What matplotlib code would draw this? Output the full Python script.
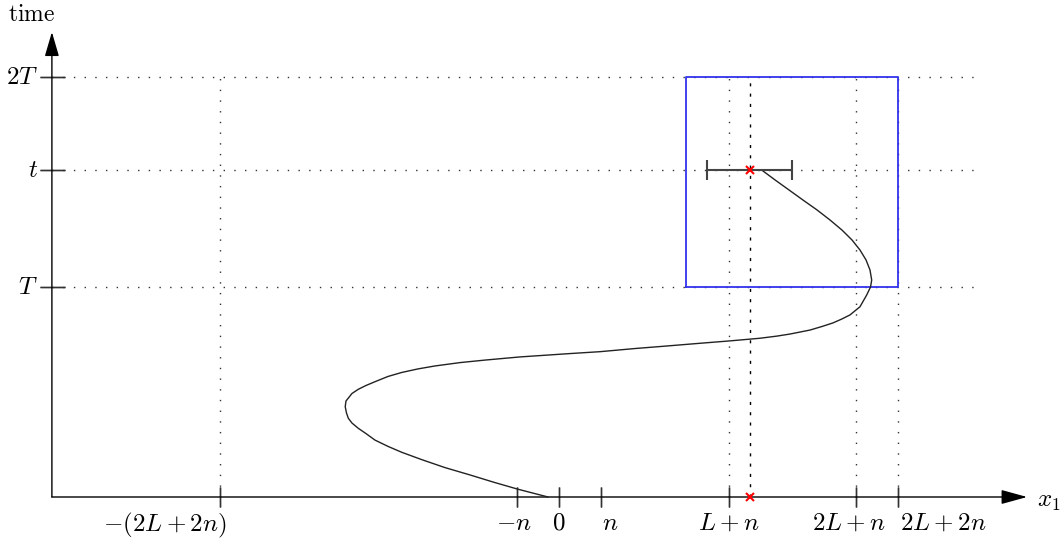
import matplotlib.pyplot as plt

plt.rcParams['mathtext.fontset'] = 'cm'

# parametres du schema (unites : n = 1, T = 1)
n = 1.0
L = 3.0
T = 1.0
t = 1.557
x_star = L + 1.5*n     # position de la croix rouge
half_width = n         # demi-largeur de l'intervalle en t

tick_pos = [-(2*L + 2*n), -n, 0, n, L + n, 2*L + n, 2*L + 2*n]
tick_lab = [r'$-(2L+2n)$', r'$-n$', r'$0$', r'$n$', r'$L+n$', r'$2L+n$', r'$2L+2n$']
tick_ha = ['right', 'center', 'center', 'center', 'center', 'center', 'left']
tick_dx = [5, -2, 0, 6, 0, -5, 1]

ytick_pos = [T, t, 2*T]
ytick_lab = [r'$T$', r'$t$', r'$2T$']

vlines_pos = [-(2*L + 2*n), L + n, 2*L + n, 2*L + 2*n]

box_x = [L, 2*L + 2*n]
box_y = [T, 2*T]

# trajectoire
curve_x = [-0.259, -0.967, -1.533, -2.099, -2.689, -3.238, -3.710, -4.033, -4.340,
           -4.552, -4.733, -4.882, -4.969, -5.012, -5.042, -5.024, -4.969, -4.882,
           -4.733, -4.552, -4.340, -4.033, -3.710, -3.325, -2.925, -2.335, -1.745,
           -0.920, 0.259, 0.967, 1.792, 2.540, 3.325, 4.009, 4.741, 5.134, 5.448,
           5.920, 6.203, 6.462, 6.675, 6.863, 7.099, 7.257, 7.347, 7.375, 7.335,
           7.241, 7.099, 6.910, 6.675, 6.392, 6.085, 5.755, 5.425, 5.094, 4.781]
curve_y = [0.000, 0.037, 0.070, 0.105, 0.140, 0.178, 0.213, 0.241, 0.271,
           0.302, 0.327, 0.352, 0.375, 0.400, 0.430, 0.457, 0.471, 0.493,
           0.513, 0.531, 0.549, 0.574, 0.593, 0.610, 0.624, 0.640, 0.652,
           0.667, 0.683, 0.692, 0.707, 0.719, 0.732, 0.743, 0.756, 0.766, 0.776,
           0.795, 0.812, 0.829, 0.848, 0.867, 0.906, 0.962, 1.000, 1.033, 1.081,
           1.129, 1.176, 1.224, 1.271, 1.319, 1.367, 1.414, 1.462, 1.510, 1.557]

x_axis_left = -11.96
x_axis_tip = 11.04
y_axis_tip = 2.214
dotted_right = 9.9

fig = plt.figure(figsize=(10.62, 5.38), dpi=100)
ax = fig.add_axes([0, 0, 1, 1])
ax.set_xlim(-559/42.4, 503/42.4)
ax.set_ylim(-41/210, 497/210)
ax.axis('off')

dot = (0, (1, 6.7))

# lignes pointillees horizontales
for y in ytick_pos:
    ax.plot([x_axis_left, dotted_right], [y, y], color='#333333', lw=1.0, ls=dot, zorder=1)
# lignes pointillees verticales
for x in vlines_pos:
    ax.plot([x, x], [0, 2*T], color='#333333', lw=1.0, ls=dot, zorder=1)
ax.plot([x_star, x_star], [0, 2*T], color='black', lw=1.0, ls=(0, (2.2, 5.2)), zorder=1)

# boite bleue
ax.plot([box_x[0], box_x[1], box_x[1], box_x[0], box_x[0]],
        [box_y[0], box_y[0], box_y[1], box_y[1], box_y[0]],
        color='#3333ee', lw=1.3, zorder=2)

# axes avec fleches
ax.annotate('', xy=(x_axis_tip, 0), xytext=(x_axis_left, 0),
            arrowprops=dict(arrowstyle='-|>,head_length=0.8,head_width=0.22',
                            mutation_scale=20, color='black', lw=1.0,
                            shrinkA=0, shrinkB=0))
ax.annotate('', xy=(x_axis_left, y_axis_tip), xytext=(x_axis_left, 0),
            arrowprops=dict(arrowstyle='-|>,head_length=0.75,head_width=0.22',
                            mutation_scale=20, color='black', lw=1.0,
                            shrinkA=0, shrinkB=0))

# graduations de l'axe x
for x, lab, ha, dx in zip(tick_pos, tick_lab, tick_ha, tick_dx):
    ax.plot([x, x], [0, 0], marker='|', ms=14, mew=1.0, color='#333333')
    ax.annotate(lab, xy=(x, 0), xytext=(dx, -10), textcoords='offset points',
                ha=ha, va='top', fontsize=18)

# graduations de l'axe y
for y, lab in zip(ytick_pos, ytick_lab):
    ax.plot([x_axis_left, x_axis_left], [y, y], marker='_', ms=18, mew=1.0, color='#333333')
    ax.annotate(lab, xy=(x_axis_left, y), xytext=(-10, 0), textcoords='offset points',
                ha='right', va='center', fontsize=18)

ax.annotate(r'$\mathrm{time}$', xy=(x_axis_left, y_axis_tip), xytext=(-15, 13),
            textcoords='offset points', ha='center', va='center', fontsize=17)
ax.annotate(r'$x_1$', xy=(x_axis_tip, 0), xytext=(7, -3),
            textcoords='offset points', ha='left', va='center', fontsize=18)

# trajectoire
ax.plot(curve_x, curve_y, color='#222222', lw=1.0, zorder=3)

# intervalle en t
ax.errorbar([x_star], [t], xerr=[half_width], fmt='none', ecolor='#444444',
            elinewidth=1.5, capsize=7, capthick=1.5, zorder=3)

# croix rouges
ax.plot([x_star, x_star], [t, 0], ls='none', marker='x', ms=6, mew=1.5, color='red', zorder=4)

fig.savefig('out.png', dpi=100)
